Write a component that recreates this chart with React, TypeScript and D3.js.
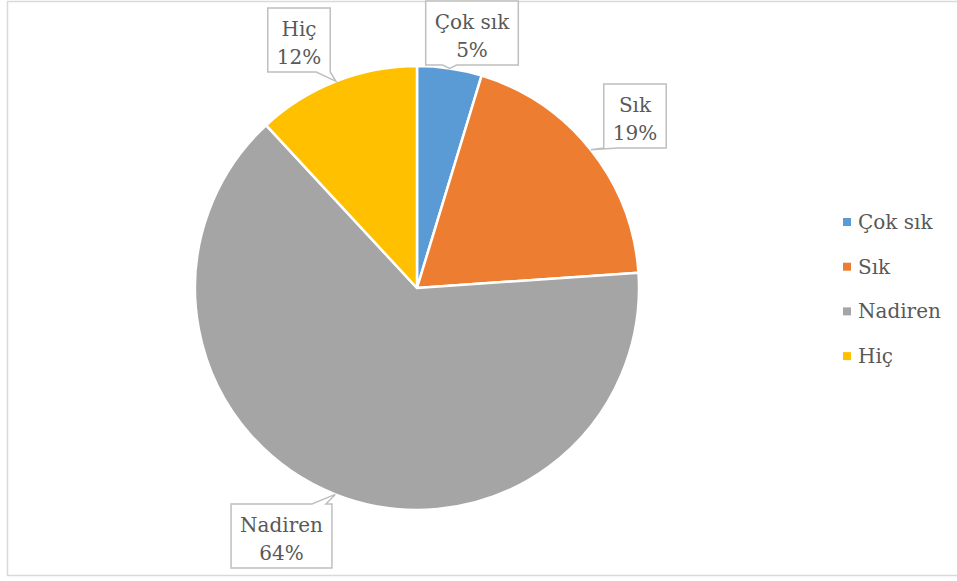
import React from "react";
import * as d3 from "d3";

const categories = ["Çok sık", "Sık", "Nadiren", "Hiç"];
const values = [4.7, 19.2, 64.2, 11.9];
const colors = ["#5b9bd5", "#ed7d31", "#a5a5a5", "#ffc000"];
// label box centres (layout)
const labelCenters: [number, number][] = [
  [472, 33],
  [635, 116],
  [281.5, 536],
  [299, 40],
];

const W = 957;
const H = 581;
const cx = 417;
const cy = 288;
const R = 222;
const FONT = "'DejaVu Serif', serif";
const FS = 20;
const TEXT = "#595959";

function measure(t: string): number {
  const c = document.createElement("canvas").getContext("2d")!;
  c.font = `${FS}px 'DejaVu Serif'`;
  return c.measureText(t).width;
}

function calloutPath(x0: number, y0: number, x1: number, y1: number, tx: number, ty: number): string {
  const w = 14;
  if (ty > y1) {
    let bx = Math.max(x0 + 4, Math.min(x1 - w - 4, tx - w / 2));
    if (tx > x1) bx = x1 - w;
    if (tx < x0) bx = x0;
    return `M${x0},${y0}H${x1}V${y1}H${bx + w}L${tx},${ty}L${bx},${y1}H${x0}Z`;
  } else if (ty < y0) {
    let bx = Math.max(x0 + 4, Math.min(x1 - w - 4, tx - w / 2));
    if (tx > x1) bx = x1 - w - 6;
    return `M${x0},${y0}H${bx}L${tx},${ty}L${bx + w},${y0}H${x1}V${y1}H${x0}Z`;
  } else if (tx < x0) {
    const by = Math.min(y1 - w, Math.max(y0, ty - w / 2));
    return `M${x0},${y0}H${x1}V${y1}H${x0}V${by + w}L${tx},${ty}L${x0},${by}Z`;
  }
  return `M${x0},${y0}H${x1}V${y1}H${x0}Z`;
}

export default function App() {
  const pie = d3.pie<number>().sort(null).value((d) => d);
  const arcs = pie(values);
  const arcGen = d3.arc<d3.PieArcDatum<number>>().innerRadius(0).outerRadius(R);
  const total = d3.sum(values);

  return (
    <svg width={W} height={H} style={{ position: "absolute", left: 0, top: 0, background: "#fff" }}>
      <rect x={7.5} y={1.5} width={960} height={574} fill="#fff" stroke="#d9d9d9" strokeWidth={1.5} />
      <g transform={`translate(${cx},${cy})`}>
        {arcs.map((a, i) => (
          <path key={i} d={arcGen(a)!} fill={colors[i]} stroke="#fff" strokeWidth={2.5} strokeLinejoin="round" />
        ))}
      </g>
      {arcs.map((a, i) => {
        const mid = (a.startAngle + a.endAngle) / 2;
        const tx = cx + R * Math.sin(mid);
        const ty = cy - R * Math.cos(mid);
        const pct = `${Math.round((values[i] / total) * 100)}%`;
        const tw = Math.max(measure(categories[i]), measure(pct));
        const [lx, ly] = labelCenters[i];
        const bw = tw + 18;
        const bh = 64;
        const x0 = lx - bw / 2;
        const x1 = lx + bw / 2;
        const y0 = ly - bh / 2;
        const y1 = ly + bh / 2;
        return (
          <g key={i}>
            <path d={calloutPath(x0, y0, x1, y1, tx, ty)} fill="#fff" stroke="#bfbfbf" strokeWidth={1.5} />
            <text x={lx} y={y0 + 28} textAnchor="middle" fontFamily={FONT} fontSize={FS} fill={TEXT}>
              {categories[i]}
            </text>
            <text x={lx} y={y0 + 56} textAnchor="middle" fontFamily={FONT} fontSize={FS} fill={TEXT}>
              {pct}
            </text>
          </g>
        );
      })}
      {categories.map((c, i) => {
        const yc = 222 + i * 44.7;
        return (
          <g key={c}>
            <rect x={843} y={yc - 4} width={8} height={8} fill={colors[i]} />
            <text x={858} y={yc + 7} fontFamily={FONT} fontSize={FS} fill={TEXT}>
              {c}
            </text>
          </g>
        );
      })}
    </svg>
  );
}
